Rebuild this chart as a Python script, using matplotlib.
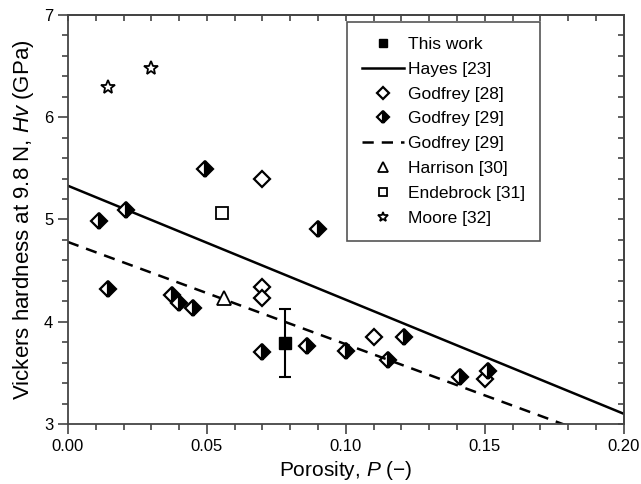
import matplotlib
matplotlib.use('Agg')
import matplotlib.pyplot as plt
from matplotlib.ticker import MultipleLocator
import numpy as np

plt.rcParams['font.family'] = ['Liberation Sans', 'DejaVu Sans']
plt.rcParams['mathtext.fontset'] = 'custom'
plt.rcParams['mathtext.rm'] = 'Liberation Sans'
plt.rcParams['mathtext.it'] = 'Liberation Sans:italic'

# data
this_x, this_y, this_err = [0.078], [3.79], [0.33]

hayes_x = [0.0, 0.20]
hayes_y = [5.33, 3.10]

godfrey28_x = [0.07, 0.07, 0.07, 0.11, 0.15]
godfrey28_y = [5.40, 4.34, 4.23, 3.85, 3.44]

godfrey29_x = [0.011, 0.021, 0.0145, 0.0495, 0.0375, 0.040, 0.045, 0.090,
               0.070, 0.086, 0.100, 0.115, 0.121, 0.141, 0.151]
godfrey29_y = [4.99, 5.09, 4.32, 5.49, 4.26, 4.18, 4.13, 4.91,
               3.70, 3.76, 3.71, 3.63, 3.85, 3.46, 3.52]

godfrey29_fit_x = [0.0, 0.20]
godfrey29_fit_y = [4.78, 2.78]

harrison_x, harrison_y = [0.056], [4.23]
endebrock_x, endebrock_y = [0.0555], [5.06]
moore_x, moore_y = [0.0145, 0.030], [6.30, 6.48]

fig = plt.figure(figsize=(6.41, 4.84), dpi=100)
ax = fig.add_axes([0.106, 0.124, 0.867, 0.845])

ax.errorbar(this_x, this_y, yerr=this_err, fmt='none', ecolor='black',
            capsize=4.5, elinewidth=1.5, capthick=1.5, zorder=5)
ax.plot(this_x, this_y, 's', color='black', ms=8, ls='none', label='This work', zorder=6)
ax.plot(hayes_x, hayes_y, '-', color='black', lw=1.8, label='Hayes [23]')
ax.plot(godfrey28_x, godfrey28_y, 'D', ms=8.5, mfc='white', mec='black',
        mew=1.6, ls='none', label='Godfrey [28]')
ax.plot(godfrey29_x, godfrey29_y, 'D', ms=8.5, fillstyle='right', mfc='black',
        mfcalt='white', mec='black', mew=1.6, ls='none', label='Godfrey [29]')
ax.plot(godfrey29_fit_x, godfrey29_fit_y, '--', color='black', lw=1.8,
        dashes=(4.5, 3.2), label='Godfrey [29]')
ax.plot(harrison_x, harrison_y, '^', ms=10, mfc='white', mec='black', mew=1.3,
        ls='none', label='Harrison [30]')
ax.plot(endebrock_x, endebrock_y, 's', ms=8, mfc='white', mec='black', mew=1.3,
        ls='none', label='Endebrock [31]')
ax.plot(moore_x, moore_y, '*', ms=10, mfc='white', mec='black', mew=1.3,
        ls='none', label='Moore [32]')

ax.set_xlim(0, 0.20)
ax.set_ylim(3, 7)
ax.xaxis.set_major_locator(MultipleLocator(0.05))
ax.xaxis.set_minor_locator(MultipleLocator(0.01))
ax.yaxis.set_major_locator(MultipleLocator(1))
ax.yaxis.set_minor_locator(MultipleLocator(0.2))
ax.xaxis.set_major_formatter(matplotlib.ticker.FormatStrFormatter('%.2f'))

ax.tick_params(which='both', direction='out', labelsize=12, color='#444444',
               top=False, right=False)
ax.tick_params(which='major', length=7, width=1.2)
ax.tick_params(which='minor', length=4, width=1.2)
# mirrored inward ticks on top and right
ax_t = ax.secondary_xaxis('top')
ax_t.xaxis.set_major_locator(MultipleLocator(0.01))
ax_t.tick_params(direction='in', length=4, width=1.2, labeltop=False, color='#444444')
ax_r = ax.secondary_yaxis('right')
ax_r.yaxis.set_major_locator(MultipleLocator(0.2))
ax_r.tick_params(direction='in', length=4, width=1.2, labelright=False, color='#444444')
for a in (ax, ax_t, ax_r):
    for s in a.spines.values():
        s.set_color('#444444')
        s.set_linewidth(1.3)

ax.set_xlabel('Porosity, $\\it{P}$ (\u2212)', fontsize=15, labelpad=4)
ax.set_ylabel('Vickers hardness at 9.8 N, $\\it{Hv}$ (GPa)', fontsize=16, labelpad=6)

leg = ax.legend(loc='upper right', bbox_to_anchor=(0.849, 0.983), borderaxespad=0,
                fontsize=12.5, handlelength=2.4, handletextpad=0.25, labelspacing=0.56,
                borderpad=0.85, markerscale=0.7, fancybox=False,
                edgecolor='#555555', framealpha=1)
leg.get_frame().set_linewidth(1.2)

fig.savefig('out.png', dpi=100)
